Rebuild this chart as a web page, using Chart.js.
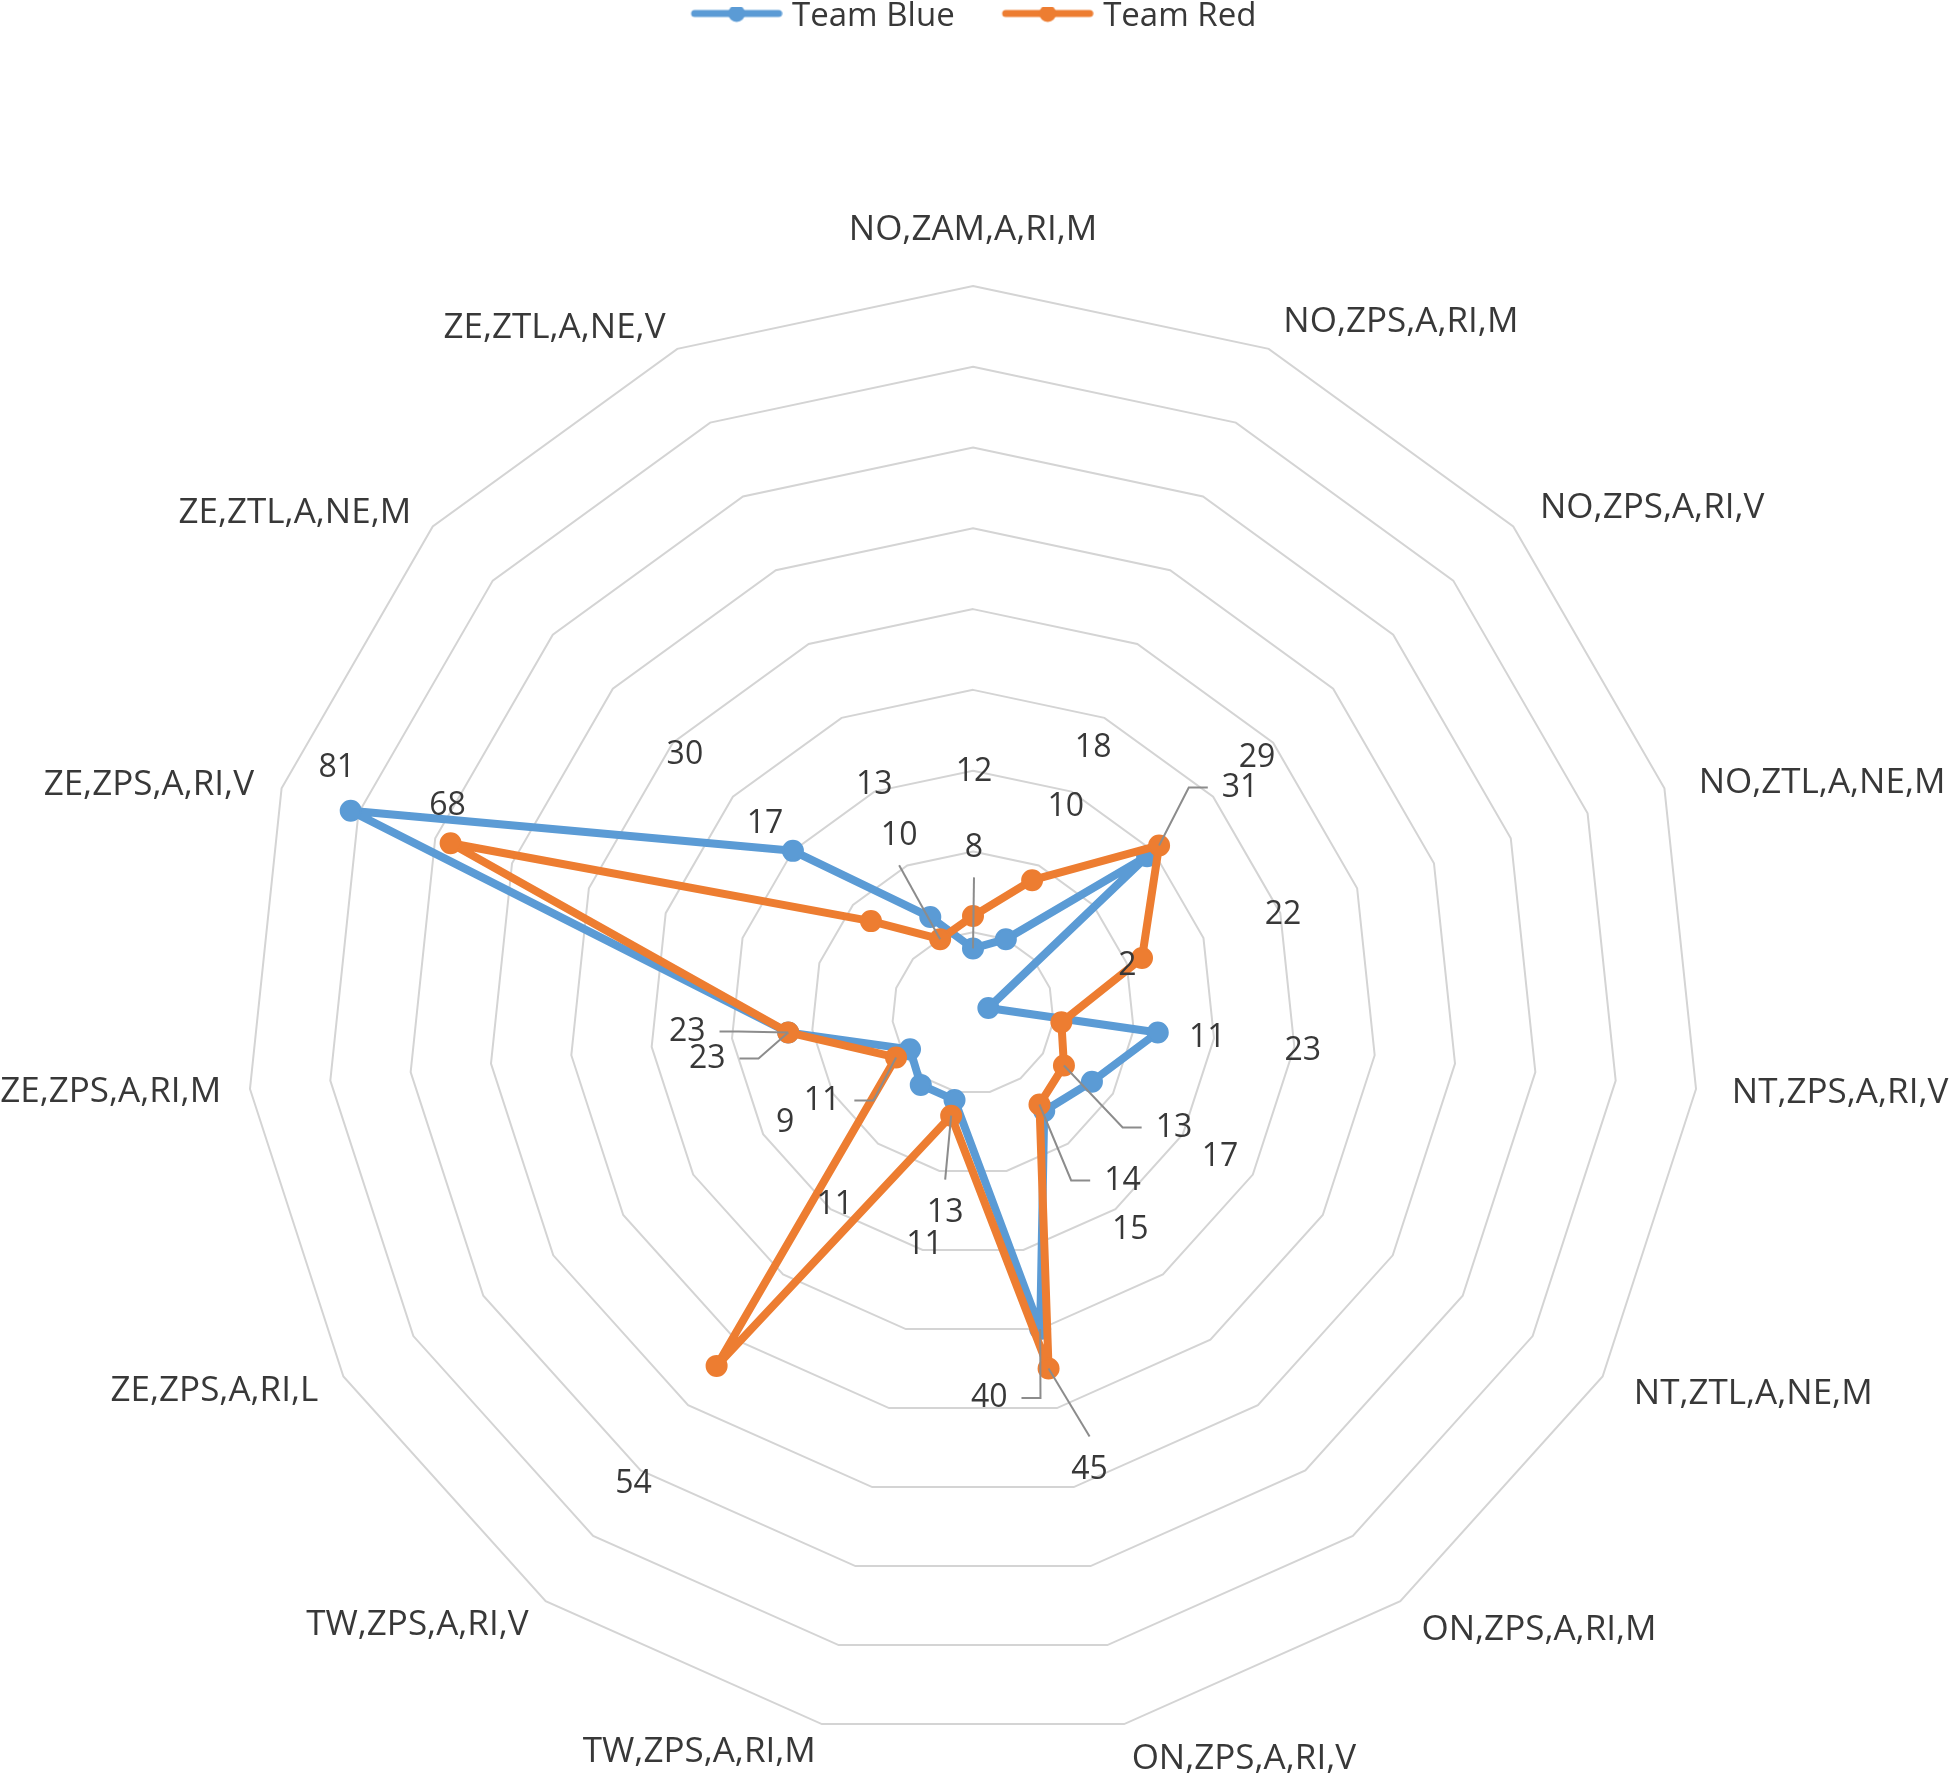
<!DOCTYPE html>
<html>
<head>
<meta charset="utf-8">
<title>Team Blue vs Team Red</title>
<script src="https://cdn.jsdelivr.net/npm/chart.js@4.4.1/dist/chart.umd.min.js"></script>
<style>
  html, body { margin: 0; padding: 0; background: #ffffff; }
  #wrap { width: 1950px; height: 1777px; }
</style>
</head>
<body>
<div id="wrap"><canvas id="radarChart" width="1950" height="1777"></canvas></div>
<script>
const categories = [
    'NO,ZAM,A,RI,M', 'NO,ZPS,A,RI,M', 'NO,ZPS,A,RI,V', 'NO,ZTL,A,NE,M', 'NT,ZPS,A,RI,V',
    'NT,ZTL,A,NE,M', 'ON,ZPS,A,RI,M', 'ON,ZPS,A,RI,V', 'TW,ZPS,A,RI,M', 'TW,ZPS,A,RI,V',
    'ZE,ZPS,A,RI,L', 'ZE,ZPS,A,RI,M', 'ZE,ZPS,A,RI,V', 'ZE,ZTL,A,NE,M', 'ZE,ZTL,A,NE,V'
];
const teamBlue = [8, 10, 29, 2, 23, 17, 15, 40, 11, 11, 9, 23, 81, 30, 13];
const teamRed = [12, 18, 31, 22, 11, 13, 14, 45, 13, 54, 11, 23, 68, 17, 10];
const axisMax = 90;
const axisStep = 10;

// value labels: offset from their point in px, plus leader line kind
const blueLabelOffsets = [[1, -100], [60, -132], [110, -98], [139, -42], [145, 18], [128, 75], [86, 119], [-51, 69],
    [-30, 145], [-86, 120], [-125, 74], [-101, -1], [-14, -43], [-108, -96], [-56, -132]];
const redLabelOffsets = [[1, -144], [61, -132], [81, -58], [141, -43], [146, 16], [110, 62], [83, 76], [41, 101],
    [-6, 97], [-83, 118], [-74, 43], [-81, 26], [-3, -37], [-106, -97], [-41, -103]];
const blueLeaders = ['v', null, null, null, null, null, null, 'r', null, null, null, 'r', null, null, null];
const redLeaders = [null, null, 'l', null, null, 'l', 'l', 'v', 'v', null, 'r', 'r', null, null, 'v'];

const BLUE = '#5B9BD5';
const RED = '#ED7D31';
const FONT = "'Open Sans', 'Noto Sans', sans-serif";
const TEXT = '#383838';

function legendMark(color) {
    const c = document.createElement('canvas');
    c.width = 100;
    c.height = 20;
    const g = c.getContext('2d');
    g.strokeStyle = color;
    g.lineWidth = 7;
    g.lineCap = 'round';
    g.beginPath();
    g.moveTo(12, 7);
    g.lineTo(96, 7);
    g.stroke();
    g.fillStyle = color;
    g.beginPath();
    g.arc(54, 7, 8.5, 0, Math.PI * 2);
    g.fill();
    return c;
}

const radarLabels = {
    id: 'radarLabels',
    afterDatasetsDraw(chart) {
        const ctx = chart.ctx;
        const scale = chart.scales.r;
        ctx.save();

        // category names round the outer ring
        ctx.font = '35px ' + FONT;
        ctx.fillStyle = TEXT;
        ctx.textBaseline = 'middle';
        chart.data.labels.forEach((label, i) => {
            const deg = Math.round(scale.getIndexAngle(i) * 180 / Math.PI) % 360;
            const pos = scale.getPointPosition(i, scale.drawingArea + (deg > 180 ? 29 : 36));
            let y = pos.y;
            if (deg === 0) y -= 20;
            else if (deg < 90 || deg > 270) y += 6;
            ctx.textAlign = (deg === 0 || deg === 180) ? 'center' : (deg < 180 ? 'left' : 'right');
            ctx.fillText(label, pos.x, y);
        });

        // value labels with leader lines
        ctx.font = '32px ' + FONT;
        ctx.textAlign = 'center';
        ctx.strokeStyle = '#8c8c8c';
        ctx.lineWidth = 2;
        [[0, blueLabelOffsets, blueLeaders], [1, redLabelOffsets, redLeaders]].forEach(([d, offsets, leaders]) => {
            const meta = chart.getDatasetMeta(d);
            const values = chart.data.datasets[d].data;
            meta.data.forEach((pt, i) => {
                const lx = pt.x + offsets[i][0];
                const ly = pt.y + offsets[i][1];
                const text = String(values[i]);
                const half = ctx.measureText(text).width / 2;
                const kind = leaders[i];
                if (kind) {
                    ctx.beginPath();
                    if (kind === 'v') {
                        ctx.moveTo(lx, ly + (pt.y > ly ? 29 : -33));
                    } else {
                        const dir = kind === 'l' ? -1 : 1;
                        const sx = lx + dir * (half + 14);
                        ctx.moveTo(sx, ly);
                        ctx.lineTo(sx + dir * 19, ly);
                    }
                    ctx.lineTo(pt.x, pt.y);
                    ctx.stroke();
                }
                ctx.fillText(text, lx, ly);
            });
        });
        ctx.restore();
    }
};

const radarCtx = document.getElementById('radarChart').getContext('2d');
new Chart(radarCtx, {
    type: 'radar',
    data: {
        labels: categories,
        datasets: [{
            label: 'Team Blue',
            data: teamBlue,
            borderColor: BLUE,
            backgroundColor: BLUE,
            pointBackgroundColor: BLUE,
            pointBorderColor: BLUE,
            borderWidth: 8,
            borderJoinStyle: 'round',
            pointRadius: 10,
            pointBorderWidth: 2,
            fill: false,
            order: 1
        }, {
            label: 'Team Red',
            data: teamRed,
            borderColor: RED,
            backgroundColor: RED,
            pointBackgroundColor: RED,
            pointBorderColor: RED,
            borderWidth: 8,
            borderJoinStyle: 'round',
            pointRadius: 10,
            pointBorderWidth: 2,
            fill: false,
            order: 0
        }]
    },
    options: {
        responsive: false,
        animation: false,
        layout: {
            padding: { top: -46, left: 246, right: 250, bottom: 0 }
        },
        scales: {
            r: {
                min: 0,
                max: axisMax,
                ticks: { display: false, stepSize: axisStep },
                grid: { color: '#d4d4d4', lineWidth: 2 },
                angleLines: { display: false },
                pointLabels: { display: false }
            }
        },
        plugins: {
            tooltip: { enabled: false },
            // empty title used as a spacer between the legend and the plot
            title: {
                display: true,
                text: '',
                weight: 500,
                font: { size: 10, lineHeight: 1 },
                padding: { top: 0, bottom: 197 }
            },
            legend: {
                position: 'top',
                labels: {
                    usePointStyle: true,
                    pointStyleWidth: 86,
                    padding: 46,
                    color: TEXT,
                    font: { family: FONT, size: 33 },
                    sort: (a, b) => a.datasetIndex - b.datasetIndex,
                    generateLabels(chart) {
                        const items = Chart.defaults.plugins.legend.labels.generateLabels(chart);
                        items.forEach(item => {
                            item.pointStyle = legendMark(item.datasetIndex === 0 ? BLUE : RED);
                        });
                        return items;
                    }
                }
            }
        }
    },
    plugins: [radarLabels]
});
</script>
</body>
</html>
